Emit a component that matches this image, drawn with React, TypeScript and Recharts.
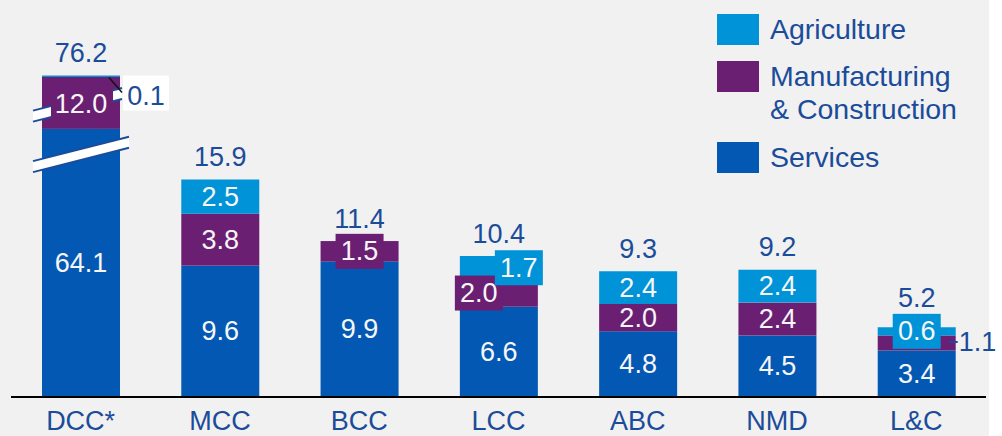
import React from 'react';
import { BarChart, Bar, XAxis, YAxis, LabelList, Legend } from 'recharts';

const categories = ['DCC*', 'MCC', 'BCC', 'LCC', 'ABC', 'NMD', 'L&C'];
const services = [64.1, 9.6, 9.9, 6.6, 4.8, 4.5, 3.4];
const manufacturing = [12.0, 3.8, 1.5, 2.0, 2.0, 2.4, 1.1];
const agriculture = [0.1, 2.5, 0, 1.7, 2.4, 2.4, 0.6];
const totals = [76.2, 15.9, 11.4, 10.4, 9.3, 9.2, 5.2];
// DCC* is drawn on a broken axis: heights of its visible (cut) bar
const dccDrawnServices = 19.6;
const dccDrawnManufacturing = 3.8;
const dccDrawnAgriculture = 0.1;

const data = categories.map((name, i) => ({
  name,
  idx: i,
  services: i === 0 ? dccDrawnServices : services[i],
  manufacturing: i === 0 ? dccDrawnManufacturing : manufacturing[i],
  agriculture: i === 0 ? dccDrawnAgriculture : agriculture[i],
}));

const C_AGRI = '#0093d8';
const C_MANU = '#6b1f72';
const C_SERV = '#0358b4';
const C_TEXT = '#1b4c9a';
const C_WHITE = '#f6f6f6';
const FONT = '"Liberation Sans", Arial, sans-serif';
const FS = 27;

const fmt = (v: any) => Number(v).toFixed(1);

const plainText = (x: number, y: number, v: any, fill = C_WHITE, anchor: any = 'middle') => (
  <text x={x} y={y} fill={fill} fontSize={FS} fontFamily={FONT} textAnchor={anchor} dominantBaseline="central">
    {fmt(v)}
  </text>
);

const ServicesLabel = (p: any) => {
  const { x, y, width, height, value } = p;
  return plainText(x + width / 2, y + height / 2, services[value]);
};

const ManufacturingLabel = (p: any) => {
  const { x, y, width, height, value: i } = p;
  const value = manufacturing[i];
  const cx = x + width / 2;
  const cy = y + height / 2;
  if (i === 0) {
    return (
      <g>
        <rect x={cx - 30} y={cy - 17} width={62} height={35} fill={C_MANU} />
        {plainText(cx, cy + 1, value)}
      </g>
    );
  }
  if (i === 2 || i === 3) {
    const bx = i === 3 ? cx - 20 : cx;
    return (
      <g>
        <rect x={bx - 24} y={cy - 17.5} width={48} height={35} fill={C_MANU} />
        {plainText(bx, cy, value)}
      </g>
    );
  }
  if (i === 6) {
    return (
      <g>
        <line x1={x + width - 7} y1={cy - 1} x2={x + width + 2} y2={cy - 1} stroke={C_TEXT} strokeWidth={2} />
        {plainText(x + width + 3, cy - 1, value, C_TEXT, 'start')}
      </g>
    );
  }
  return plainText(cx, cy, value);
};

const AgricultureLabel = (p: any) => {
  const { x, y, width, height, value: i } = p;
  const value = agriculture[i];
  if (!value) return null;
  const cx = x + width / 2;
  const cy = y + height / 2;
  if (i === 0) {
    return (
      <g>
        <line x1={x + width - 11} y1={y + 2} x2={x + width + 2} y2={y + 17} stroke="#111" strokeWidth={1.5} />
        <rect x={x + width + 3} y={y} width={46} height={35} fill="#ffffff" />
        {plainText(x + width + 26, y + 20, value, C_TEXT)}
      </g>
    );
  }
  if (i === 3 || i === 6) {
    const bx = i === 3 ? cx + 20 : cx;
    return (
      <g>
        <rect x={bx - 24} y={cy - 17.5} width={48} height={35} fill={C_AGRI} />
        {plainText(bx, cy, value)}
      </g>
    );
  }
  return plainText(cx, cy, value);
};

// total label sits above the whole stack; placed from the manufacturing rect
const TotalLabel = (p: any) => {
  const { x, y, width, height, value: i } = p;
  const d = data[i];
  const pxPerUnit = height / d.manufacturing;
  const top = y - d.agriculture * pxPerUnit;
  const gap = i === 6 ? 29 : 22.5; // clear of the L&C value box
  return plainText(x + width / 2, top - gap, totals[i], C_TEXT);
};

const ManufacturingShape = (p: any) => {
  const { x, y, width, height, fill, index } = p;
  const rect = <rect x={x} y={y} width={width} height={height} fill={fill} />;
  if (index !== 0) return rect;
  const cx = x + width / 2;
  const band = (yc: number, x0: number, x1: number) => {
    const slope = -0.255;
    const h = 5.5;
    const ya = yc + slope * (x0 - cx);
    const yb = yc + slope * (x1 - cx);
    return (
      <g>
        <polygon points={`${x0},${ya - h} ${x1},${yb - h} ${x1},${yb + h} ${x0},${ya + h}`} fill="#ffffff" />
        <line x1={x0} y1={ya - h} x2={x1} y2={yb - h} stroke={C_TEXT} strokeWidth={2} />
        <line x1={x0} y1={ya + h} x2={x1} y2={yb + h} stroke={C_TEXT} strokeWidth={2} />
      </g>
    );
  };
  return (
    <g>
      {rect}
      {band(y + height / 2 + 1, x - 9, x + width + 2)}
      {band(y + height + 25.5, x - 9, x + width + 9)}
    </g>
  );
};

const AxisTick = (p: any) => {
  const { x, y, payload } = p;
  return (
    <text x={x} y={y + 24} fill={C_TEXT} fontSize={FS} fontFamily={FONT} textAnchor="middle" dominantBaseline="central">
      {payload.value}
    </text>
  );
};

const legendItems = [
  { label: ['Agriculture'], color: C_AGRI, top: 0 },
  { label: ['Manufacturing', '& Construction'], color: C_MANU, top: 47 },
  { label: ['Services'], color: C_SERV, top: 128 },
];

const LegendContent = () => (
  <div style={{ position: 'relative', width: 280, height: 170, fontFamily: FONT }}>
    {legendItems.map((it) => (
      <div key={it.label[0]} style={{ position: 'absolute', left: 0, top: it.top }}>
        <div style={{ position: 'absolute', left: 0, top: 1, width: 42, height: 31, background: it.color }} />
        <div style={{ position: 'absolute', left: 53, top: 0, color: C_TEXT, fontSize: 28.5, lineHeight: '33px', whiteSpace: 'nowrap' }}>
          {it.label.map((l) => (
            <div key={l}>{l}</div>
          ))}
        </div>
      </div>
    ))}
  </div>
);

const idxKey = (d: any) => d.idx;

export default function App() {
  return (
    <div style={{ position: 'absolute', left: 0, top: 0, width: 1002, height: 436, background: '#ffffff' }}>
      <div style={{ position: 'absolute', left: 0, top: 0, width: 989, height: 436, background: '#f1f1f1' }} />
      <div style={{ position: 'absolute', left: 0, top: 0 }}>
        <BarChart width={1002} height={436} data={data} margin={{ top: 14, right: 16, bottom: 0, left: 11 }} barSize={78}>
          <XAxis
            dataKey="name"
            height={39}
            interval={0}
            tickLine={false}
            tickSize={0}
            tickMargin={0}
            axisLine={{ stroke: '#000', strokeWidth: 2 }}
            tick={<AxisTick />}
          />
          <YAxis hide domain={[0, 28]} />
          <Legend
            layout="vertical"
            align="center"
            verticalAlign="middle"
            wrapperStyle={{ top: 13, left: 717, width: 280, height: 170 }}
            content={<LegendContent />}
          />
          <Bar dataKey="services" stackId="a" fill={C_SERV} isAnimationActive={false}>
            <LabelList dataKey={idxKey} content={<ServicesLabel />} />
          </Bar>
          <Bar dataKey="manufacturing" stackId="a" fill={C_MANU} isAnimationActive={false} shape={ManufacturingShape}>
            <LabelList dataKey={idxKey} content={<ManufacturingLabel />} />
            <LabelList dataKey={idxKey} content={<TotalLabel />} />
          </Bar>
          <Bar dataKey="agriculture" stackId="a" fill={C_AGRI} isAnimationActive={false}>
            <LabelList dataKey={idxKey} content={<AgricultureLabel />} />
          </Bar>
        </BarChart>
      </div>
    </div>
  );
}
